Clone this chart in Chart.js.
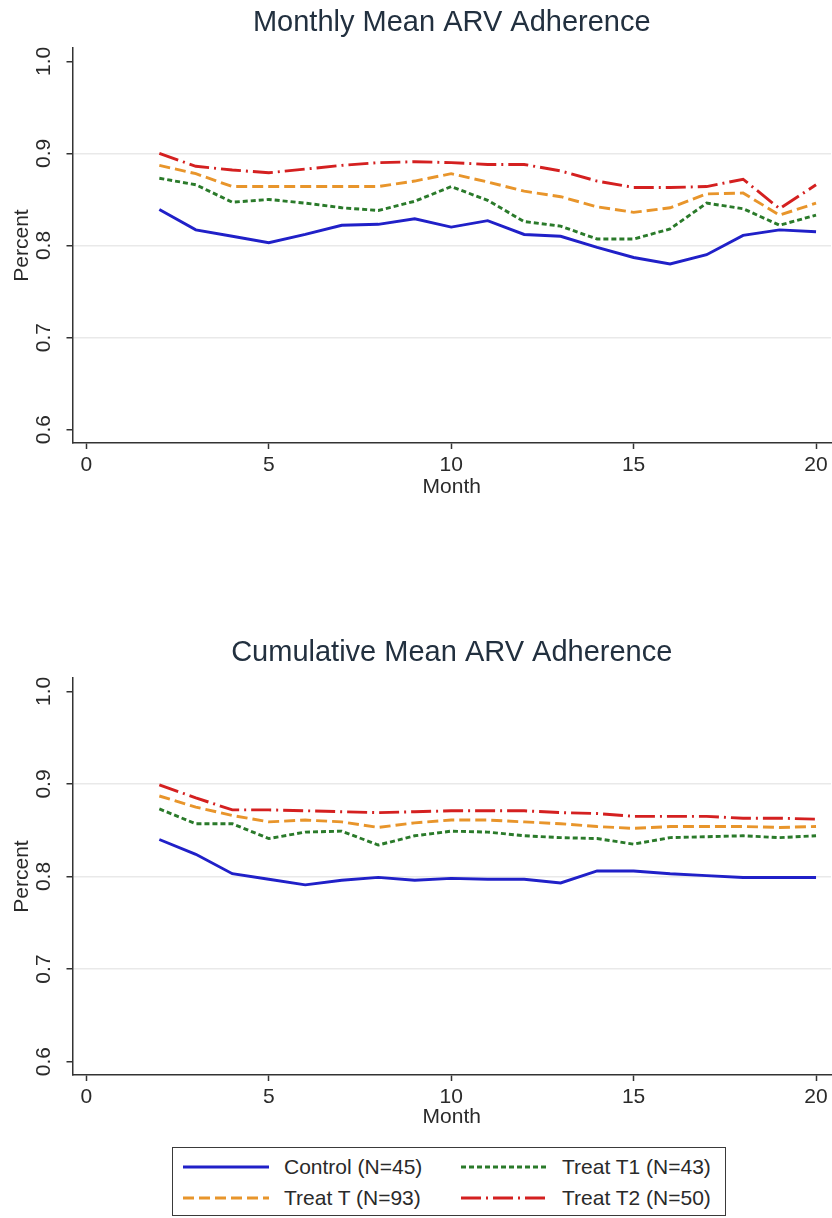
<!DOCTYPE html>
<html>
<head>
<meta charset="utf-8">
<script src="https://cdn.jsdelivr.net/npm/chart.js@4.4.1/dist/chart.umd.min.js"></script>
<style>
  html, body { margin: 0; padding: 0; background: #ffffff; }
  body { width: 832px; height: 1218px; position: relative; overflow: hidden; font-family: "Liberation Sans", Arial, sans-serif; }
  .wrap { position: absolute; left: 0; width: 832px; height: 500px; }
  #legend { position: absolute; left: 172px; top: 1147px; width: 552px; height: 67px; border: 1.5px solid #3a3a3a; box-sizing: content-box; }
  .item { position: absolute; height: 26px; display: flex; align-items: center; font-size: 21px; color: #2a2a2a; white-space: nowrap; }
  .item svg { margin-right: 15px; }
</style>
</head>
<body>
<div class="wrap" style="top:0px"><canvas id="c1" width="832" height="500"></canvas></div>
<div class="wrap" style="top:630px"><canvas id="c2" width="832" height="500"></canvas></div>
<div id="legend"></div>
<script>
// ---------- data ----------
const months = [2,3,4,5,6,7,8,9,10,11,12,13,14,15,16,17,18,19,20];
const xTicks = [0,5,10,15,20];
const yTicks = [0.6,0.7,0.8,0.9,1.0];
const yTickLabels = ["0.6","0.7","0.8","0.9","1.0"];
const gridValues = [0.7,0.8,0.9];

const seriesNames = ["Control (N=45)", "Treat T (N=93)", "Treat T1 (N=43)", "Treat T2 (N=50)"];

const monthlyControl = [0.839,0.817,0.810,0.803,0.812,0.822,0.823,0.829,0.820,0.827,0.812,0.810,0.798,0.787,0.780,0.790,0.811,0.817,0.815];
const monthlyTreatT  = [0.887,0.878,0.864,0.864,0.864,0.864,0.864,0.870,0.878,0.869,0.859,0.853,0.842,0.836,0.841,0.856,0.857,0.833,0.846];
const monthlyTreatT1 = [0.873,0.866,0.847,0.850,0.846,0.841,0.838,0.848,0.864,0.849,0.826,0.821,0.807,0.807,0.818,0.846,0.840,0.822,0.833];
const monthlyTreatT2 = [0.900,0.886,0.882,0.879,0.883,0.887,0.890,0.891,0.890,0.888,0.888,0.881,0.870,0.863,0.863,0.864,0.872,0.840,0.866];

const cumControl = [0.840,0.824,0.803,0.797,0.791,0.796,0.799,0.796,0.798,0.797,0.797,0.793,0.806,0.806,0.803,0.801,0.799,0.799,0.799];
const cumTreatT  = [0.887,0.875,0.866,0.859,0.861,0.859,0.853,0.858,0.861,0.861,0.859,0.857,0.854,0.852,0.854,0.854,0.854,0.853,0.854];
const cumTreatT1 = [0.873,0.857,0.857,0.841,0.848,0.849,0.834,0.844,0.849,0.848,0.844,0.842,0.841,0.835,0.842,0.843,0.844,0.842,0.844];
const cumTreatT2 = [0.899,0.885,0.872,0.872,0.871,0.870,0.869,0.870,0.871,0.871,0.871,0.869,0.868,0.865,0.865,0.865,0.863,0.863,0.862];

// ---------- styles ----------
const seriesColors = ["#2020c8", "#e8952b", "#2a7a2a", "#d42020"];
const seriesDash = [[], [11,5], [5,3], [20,5,2,5]];
const FONT = '"Liberation Sans", Arial, sans-serif';
const TEXT = '#2a2a2a';
const AXIS = '#333333';

function buildDatasets(arrs) {
  return arrs.map((vals, i) => ({
    label: seriesNames[i],
    data: months.map((m, k) => ({x: m, y: vals[k]})),
    borderColor: seriesColors[i],
    borderDash: seriesDash[i],
    borderWidth: 2.9,
    pointRadius: 0,
    tension: 0,
    fill: false
  }));
}

const decorPlugin = {
  id: 'decor',
  afterDraw(chart) {
    const ctx = chart.ctx;
    const ca = chart.chartArea;
    const ys = chart.scales.y;
    ctx.save();
    // title
    ctx.fillStyle = '#22303f';
    ctx.font = '29px ' + FONT;
    ctx.textAlign = 'center';
    ctx.textBaseline = 'middle';
    ctx.fillText(chart.options.plugins.decor.title, (ca.left + ca.right) / 2, 23);
    // rotated y tick labels
    ctx.fillStyle = TEXT;
    ctx.font = '21px ' + FONT;
    yTicks.forEach((v, i) => {
      const py = ys.getPixelForValue(v);
      ctx.save();
      ctx.translate(44.7, py);
      ctx.rotate(-Math.PI / 2);
      ctx.textAlign = 'center';
      ctx.textBaseline = 'middle';
      ctx.fillText(yTickLabels[i], 0, 0);
      ctx.restore();
    });
    ctx.restore();
  }
};

function makeChart(id, title, arrs, axisBottom, canvasH) {
  const xHeight = canvasH - axisBottom;
  return new Chart(document.getElementById(id), {
    type: 'line',
    data: { datasets: buildDatasets(arrs) },
    plugins: [decorPlugin],
    options: {
      responsive: false,
      animation: false,
      layout: { padding: { top: 48, right: 1, left: 0, bottom: 0 } },
      plugins: {
        legend: { display: false },
        tooltip: { enabled: false },
        decor: { title: title }
      },
      scales: {
        x: {
          type: 'linear',
          min: -0.38,
          max: 20.41,
          afterBuildTicks: (s) => { s.ticks = xTicks.map(v => ({value: v})); },
          afterFit: (s) => { s.height = xHeight; s.paddingLeft = 0; s.paddingRight = 0; },
          grid: { drawOnChartArea: false, drawTicks: true, tickLength: 6, tickWidth: 1.5, tickColor: AXIS },
          border: { display: true, color: AXIS, width: 1.5 },
          ticks: { autoSkip: false, maxRotation: 0, padding: 4, color: TEXT, font: { family: FONT, size: 21 },
                   callback: (v) => String(v) },
          title: { display: true, text: 'Month', color: TEXT, font: { family: FONT, size: 21 }, padding: { top: 0, bottom: 0 } }
        },
        y: {
          type: 'linear',
          min: 0.5855,
          max: 1.0145,
          afterBuildTicks: (s) => { s.ticks = yTicks.map(v => ({value: v})); },
          afterFit: (s) => { s.width = 72.5; s.paddingTop = 0; s.paddingBottom = 0; },
          grid: {
            drawOnChartArea: true, drawTicks: true, tickLength: 6, tickWidth: 1.5, tickColor: AXIS, lineWidth: 1.5,
            color: (c) => (c.tick && gridValues.some(g => Math.abs(g - c.tick.value) < 1e-6)) ? '#e9e9e9' : 'rgba(0,0,0,0)'
          },
          border: { display: true, color: AXIS, width: 1.5 },
          ticks: { display: false },
          title: { display: true, text: 'Percent', color: TEXT, font: { family: FONT, size: 21 }, padding: { top: 10, bottom: 0 } }
        }
      }
    }
  });
}

makeChart('c1', 'Monthly Mean ARV Adherence', [monthlyControl, monthlyTreatT, monthlyTreatT1, monthlyTreatT2], 443, 500);
makeChart('c2', 'Cumulative Mean ARV Adherence', [cumControl, cumTreatT, cumTreatT1, cumTreatT2], 445, 500);

// ---------- legend ----------
const legendPos = [
  {left: 10, top: 6},   // Control
  {left: 10, top: 37},  // Treat T
  {left: 288, top: 6},  // Treat T1
  {left: 288, top: 37}  // Treat T2
];
const legend = document.getElementById('legend');
seriesNames.forEach((name, i) => {
  const d = document.createElement('div');
  d.className = 'item';
  d.style.left = legendPos[i].left + 'px';
  d.style.top = legendPos[i].top + 'px';
  const dash = seriesDash[i].length ? seriesDash[i].join(',') : 'none';
  d.innerHTML = '<svg width="86" height="6"><line x1="0" y1="3" x2="86" y2="3" stroke="' + seriesColors[i] +
    '" stroke-width="2.8" stroke-dasharray="' + dash + '"/></svg><span>' + name + '</span>';
  legend.appendChild(d);
});
</script>
</body>
</html>
